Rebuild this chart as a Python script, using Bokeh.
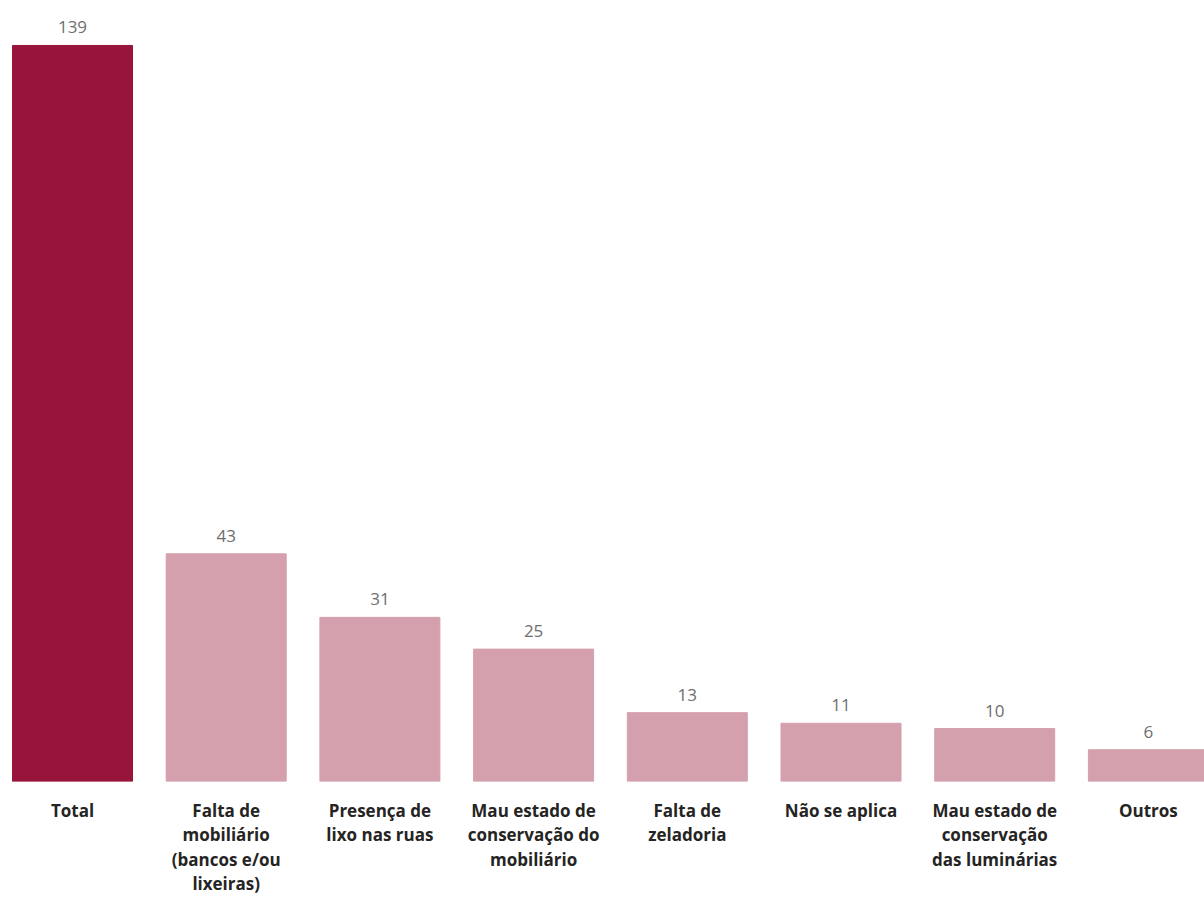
from bokeh.plotting import figure
from bokeh.models import ColumnDataSource, FixedTicker, Range1d
from bokeh.core.properties import value
from bokeh.embed import file_html
from bokeh.resources import INLINE

categories = [
    "Total",
    "Falta de\nmobiliário\n(bancos e/ou\nlixeiras)",
    "Presença de\nlixo nas ruas",
    "Mau estado de\nconservação do\nmobiliário",
    "Falta de\nzeladoria",
    "Não se aplica",
    "Mau estado de\nconservação\ndas luminárias",
    "Outros",
]
values = [139, 43, 31, 25, 13, 11, 10, 6]
colors = ["#97153A"] + ["#D4A0AD"] * 7

xs = list(range(len(categories)))
src = ColumnDataSource(dict(x=xs, top=values, color=colors, label=[str(v) for v in values]))

W, H = 1204, 898
STEP = 153.7
p = figure(width=W, height=H, output_backend="svg", toolbar_location=None,
           x_range=Range1d(-72 / STEP, (W - 72) / STEP),
           y_range=Range1d(0, 782 / 5.302),
           min_border_left=0, min_border_right=0, min_border_top=0, min_border_bottom=116)

p.vbar(x="x", top="top", width=120 / STEP, bottom=0, color="color", source=src)
p.text(x="x", y="top", text="label", source=src, text_align="center", text_baseline="bottom",
       y_offset=-12, text_font=value("Open Sans"), text_font_size="17px", text_color="#6E6E6E")

p.xaxis.ticker = FixedTicker(ticks=xs)
p.xaxis.major_label_overrides = {i: c for i, c in enumerate(categories)}
p.xaxis.major_label_text_font = "Open Sans"
p.xaxis.major_label_text_font_style = "bold"
p.xaxis.major_label_text_font_size = "17px"
p.xaxis.major_label_text_color = "#252423"
p.xaxis.major_label_text_line_height = 1.07
p.xaxis.major_label_standoff = 11
p.xaxis.axis_line_color = None
p.xaxis.major_tick_line_color = None
p.xaxis.minor_tick_line_color = None
p.yaxis.visible = False
p.xgrid.grid_line_color = None
p.ygrid.grid_line_color = None
p.outline_line_color = None

open("out.html", "w").write(file_html(p, INLINE))
